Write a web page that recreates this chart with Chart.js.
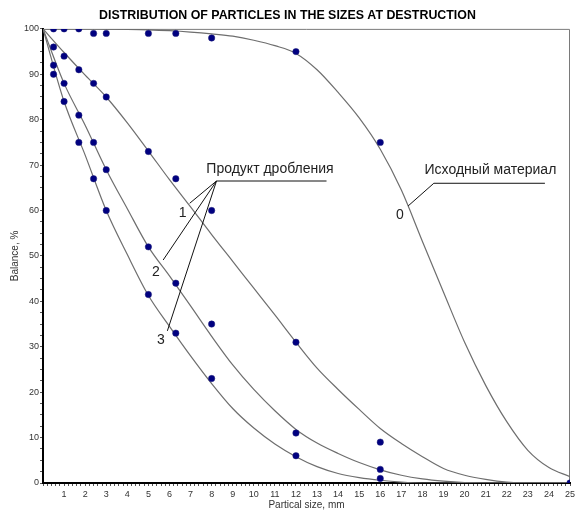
<!DOCTYPE html>
<html>
<head>
<meta charset="utf-8">
<script src="https://cdn.jsdelivr.net/npm/chart.js@4"></script>
<style>
  body { margin: 0; background: #fff; }
  canvas { display: block; }
</style>
</head>
<body>
<canvas id="chart" width="575" height="512"></canvas>
<script>
// Sieve sizes, mm (measured points)
const sizes = [0.5, 1, 1.7, 2.4, 3, 5, 6.3, 8, 12, 16];
const sizes0 = [0.5, 1, 1.7, 2.4, 3, 5, 6.3, 8, 12, 16, 25];

// Measured balance, %
const measured0 = [100, 100, 100, 99, 99, 99, 99, 98, 95, 75, 0];
const measured1 = [96, 94, 91, 88, 85, 73, 67, 60, 31, 9];
const measured2 = [92, 88, 81, 75, 69, 52, 44, 35, 11, 3];
const measured3 = [90, 84, 75, 67, 60, 41.5, 33, 23, 6, 1];

// Fitted curves at every millimetre
const curveX = [0, 1, 2, 3, 4, 5, 6, 7, 8, 9, 10, 11, 12, 13, 14, 15, 16, 17, 18, 19, 20, 21, 22, 23, 24, 25];
const curve0 = [100, 100, 100, 99.95, 99.9, 99.8, 99.6, 99.3, 98.9, 98.4, 97.5, 96.3, 94.6, 91, 86, 80.4, 73.5, 64.5, 53.2, 42, 31, 21.5, 13.5, 7.2, 3.4, 1.4];
const curve1 = [100, 94.8, 89.8, 85, 79.3, 73.1, 66.8, 60.8, 54.7, 48.8, 42.9, 37, 31, 25.3, 20.6, 16.2, 12, 8.7, 5.8, 3.2, 1.7, 0.8, 0.2, 0, 0, 0];
const curve2 = [100, 88, 78.8, 69, 60.4, 52, 45.6, 39, 32.3, 26, 20.6, 15.9, 11.8, 8.8, 6.5, 4.5, 2.9, 1.7, 0.9, 0.4, 0.1, 0, 0, 0, 0, 0];
const curve3 = [100, 84, 72.2, 60, 50.3, 41.3, 34.5, 28, 21.9, 16.4, 12.1, 8.6, 5.8, 3.6, 2.1, 1.2, 0.6, 0.2, 0, 0, 0, 0, 0, 0, 0, 0];

const FONT = "'Liberation Sans', Arial, sans-serif";

function pairs(xs, ys) {
  return xs.map((x, i) => ({ x: x, y: ys[i] }));
}

function dots(xs, ys) {
  return {
    type: 'scatter',
    data: pairs(xs, ys),
    pointRadius: 3.2,
    pointBackgroundColor: '#000080',
    pointBorderColor: '#20207a',
    pointBorderWidth: 0.5,
    showLine: false
  };
}

function curve(ys) {
  return {
    type: 'line',
    data: pairs(curveX, ys),
    borderColor: '#6e6e6e',
    borderWidth: 1.2,
    pointRadius: 0,
    cubicInterpolationMode: 'monotone',
    fill: false
  };
}

// leader lines and labels, in data units
const notes = {
  id: 'notes',
  afterDatasetsDraw(chart) {
    const { ctx, scales: { x, y } } = chart;
    const px = v => x.getPixelForValue(v);
    const py = v => y.getPixelForValue(v);
    const seg = (a, b, c, d) => {
      ctx.beginPath();
      ctx.moveTo(px(a), py(b));
      ctx.lineTo(px(c), py(d));
      ctx.stroke();
    };
    ctx.save();
    ctx.strokeStyle = '#111';
    ctx.lineWidth = 1;
    // Продукт дробления
    seg(8.23, 66.5, 13.45, 66.5);
    seg(8.23, 66.5, 6.96, 61.6);
    seg(8.23, 66.5, 5.70, 49.1);
    seg(8.23, 66.5, 5.90, 33.5);
    // Исходный материал
    seg(18.54, 66, 23.81, 66);
    seg(18.54, 66, 17.32, 61);

    ctx.fillStyle = '#222';
    ctx.textBaseline = 'middle';
    ctx.textAlign = 'left';
    ctx.font = '14px ' + FONT;
    ctx.fillText('Продукт дробления', px(7.75), py(69.1));
    ctx.fillText('Исходный материал', px(18.1), py(68.9));

    ctx.textAlign = 'center';
    ctx.fillText('1', px(6.62), py(59.4));
    ctx.fillText('2', px(5.35), py(46.5));
    ctx.fillText('3', px(5.59), py(31.5));
    ctx.fillText('0', px(16.93), py(59));
    ctx.restore();
  }
};

// thin grey frame on top and right
const frame = {
  id: 'frame',
  beforeDatasetsDraw(chart) {
    const { ctx, chartArea: a } = chart;
    ctx.save();
    ctx.strokeStyle = '#7a7a7a';
    ctx.lineWidth = 1;
    ctx.beginPath();
    ctx.moveTo(a.left, a.top + 0.5);
    ctx.lineTo(a.right - 0.5, a.top + 0.5);
    ctx.lineTo(a.right - 0.5, a.bottom);
    ctx.stroke();
    ctx.restore();
  }
};

const isWhole = v => Math.abs(v - Math.round(v)) < 1e-6;

new Chart(document.getElementById('chart'), {
  data: {
    datasets: [
      dots(sizes0, measured0),
      dots(sizes, measured1),
      dots(sizes, measured2),
      dots(sizes, measured3),
      curve(curve0),
      curve(curve1),
      curve(curve2),
      curve(curve3)
    ]
  },
  options: {
    responsive: false,
    animation: false,
    devicePixelRatio: 1,
    layout: { padding: { left: 0, right: 0, top: 0, bottom: 0 } },
    plugins: {
      legend: { display: false },
      tooltip: { enabled: false },
      title: {
        display: true,
        text: 'DISTRIBUTION OF PARTICLES IN THE SIZES AT DESTRUCTION',
        color: '#000',
        font: { family: FONT, size: 12.4, weight: 'bold', lineHeight: 1.2 },
        padding: { top: 8, bottom: 6 }
      }
    },
    scales: {
      x: {
        type: 'linear',
        min: 0,
        max: 25,
        afterFit(s) {
          s.height = 29;
          s.paddingRight = 5;
        },
        border: { display: true, color: '#000', width: 2 },
        grid: { drawOnChartArea: false, drawTicks: true, tickLength: 3, color: '#555' },
        ticks: {
          stepSize: 0.2,
          autoSkip: false,
          maxRotation: 0,
          minRotation: 0,
          padding: 3,
          color: '#333',
          font: { family: FONT, size: 9 },
          callback: v => (isWhole(v) && Math.round(v) > 0 ? String(Math.round(v)) : '')
        },
        title: {
          display: true,
          text: 'Partical size, mm',
          color: '#333',
          font: { family: FONT, size: 10, lineHeight: 1.2 },
          padding: { top: 0, bottom: 1 }
        }
      },
      y: {
        type: 'linear',
        min: 0,
        max: 100,
        afterFit(s) { s.width = 43; },
        border: { display: true, color: '#000', width: 2 },
        grid: { drawOnChartArea: false, drawTicks: true, tickLength: 3, color: '#555' },
        ticks: {
          stepSize: 2.5,
          autoSkip: false,
          padding: 1,
          color: '#333',
          font: { family: FONT, size: 9 },
          callback: v => (isWhole(v / 10) ? String(Math.round(v)) : '')
        },
        title: {
          display: true,
          text: 'Balance, %',
          color: '#333',
          font: { family: FONT, size: 10, lineHeight: 1.2 },
          padding: { top: 9, bottom: 0 }
        }
      }
    }
  },
  plugins: [frame, notes]
});
</script>
</body>
</html>
